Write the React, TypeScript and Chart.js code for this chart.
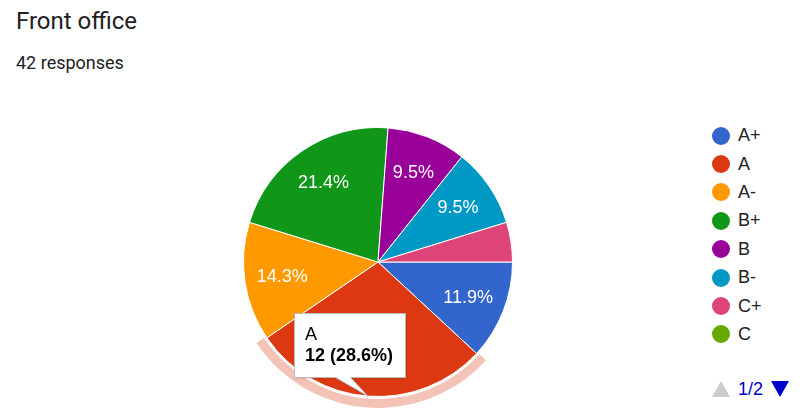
import React, { useEffect, useRef } from "react";
import { Chart, registerables } from "chart.js";
Chart.register(...registerables);

const title = "Front office";
const subtitle = "42 responses";
const labels = ["A+", "A", "A-", "B+", "B", "B-", "C+", "C"];
const counts = [5, 12, 6, 9, 4, 4, 2, 0];
const colors = ["#3366cc", "#dc3912", "#ff9900", "#109618", "#990099", "#0099c6", "#dd4477", "#66aa00"];
const highlighted = "A";
const pageLabel = "1/2";

const FONT = "Arial, 'Liberation Sans', sans-serif";

const overlayPlugin = {
  id: "overlay",
  afterDatasetsDraw(chart: any) {
    const ctx = chart.ctx as CanvasRenderingContext2D;
    const meta = chart.getDatasetMeta(0);
    const total = counts.reduce((a, b) => a + b, 0);
    ctx.save();
    // slice labels
    meta.data.forEach((arc: any, i: number) => {
      const pct = (counts[i] / total) * 100;
      if (pct < 7) return;
      const p = arc.getProps(["x", "y", "startAngle", "endAngle", "outerRadius"], true);
      const mid = (p.startAngle + p.endAngle) / 2;
      const r = p.outerRadius * 0.72;
      ctx.fillStyle = "#ffffff";
      ctx.font = `18px ${FONT}`;
      ctx.textAlign = "center";
      ctx.textBaseline = "middle";
      ctx.fillText(pct.toFixed(1) + "%", p.x + r * Math.cos(mid), p.y + r * Math.sin(mid) + 1);
    });

    const hi = labels.indexOf(highlighted);
    const arc = meta.data[hi];
    if (arc) {
      const p = arc.getProps(["x", "y", "startAngle", "endAngle", "outerRadius"], true);
      // highlight ring
      ctx.beginPath();
      ctx.arc(p.x, p.y, p.outerRadius + 7, p.startAngle - 0.01, p.endAngle + 0.01);
      ctx.lineWidth = 9;
      ctx.strokeStyle = "rgba(220,57,18,0.3)";
      ctx.stroke();

      // tooltip
      const mid = (p.startAngle + p.endAngle) / 2;
      const tx = p.x + p.outerRadius * Math.cos(mid);
      const ty = p.y + p.outerRadius * Math.sin(mid);
      const left = Math.round(tx - 74) + 0.5;
      const bottom = Math.round(ty - 19) + 0.5;
      const w = 111;
      const h = 64;
      const top = bottom - h;
      ctx.beginPath();
      ctx.moveTo(left, top);
      ctx.lineTo(left + w, top);
      ctx.lineTo(left + w, bottom);
      ctx.lineTo(left + 56, bottom);
      ctx.lineTo(tx, ty);
      ctx.lineTo(left + 41, bottom);
      ctx.lineTo(left, bottom);
      ctx.closePath();
      ctx.shadowColor = "rgba(0,0,0,0.15)";
      ctx.shadowBlur = 2;
      ctx.shadowOffsetX = 1;
      ctx.shadowOffsetY = 1;
      ctx.fillStyle = "#ffffff";
      ctx.fill();
      ctx.shadowColor = "transparent";
      ctx.lineWidth = 1;
      ctx.strokeStyle = "#bbbbbb";
      ctx.stroke();

      const value = counts[hi];
      const pct = ((value / total) * 100).toFixed(1);
      ctx.fillStyle = "#000000";
      ctx.textAlign = "left";
      ctx.textBaseline = "alphabetic";
      ctx.font = `18px ${FONT}`;
      ctx.fillText(labels[hi], left + 10.5, top + 26);
      ctx.font = `bold 18px ${FONT}`;
      ctx.fillText(`${value} (${pct}%)`, left + 10.5, top + 47);
    }
    ctx.restore();
  },
};

function PieChart() {
  const ref = useRef<HTMLCanvasElement | null>(null);
  useEffect(() => {
    if (!ref.current) return;
    const chart = new Chart(ref.current, {
      type: "pie",
      data: {
        labels,
        datasets: [
          {
            data: counts,
            backgroundColor: colors,
            borderColor: "#ffffff",
            borderWidth: 1,
            hoverOffset: 0,
            offset: 0,
          },
        ],
      },
      options: {
        animation: false,
        responsive: false,
        rotation: 90,
        layout: { padding: 15 },
        events: [],
        plugins: {
          legend: { display: false },
          tooltip: { enabled: false },
        },
      },
      plugins: [overlayPlugin],
    });
    return () => chart.destroy();
  }, []);
  return <canvas ref={ref} width={300} height={300} style={{ width: 300, height: 300, display: "block" }} />;
}

export default function App() {
  return (
    <div
      style={{
        position: "fixed",
        left: 0,
        top: 0,
        width: 800,
        height: 413,
        background: "#ffffff",
        overflow: "hidden",
      }}
    >
      <div
        style={{
          position: "absolute",
          left: 16,
          top: 9,
          fontFamily: "Roboto, sans-serif",
          fontSize: 24,
          lineHeight: "24px",
          color: "#202124",
          whiteSpace: "nowrap",
        }}
      >
        {title}
      </div>
      <div
        style={{
          position: "absolute",
          left: 16,
          top: 54,
          fontFamily: "Roboto, sans-serif",
          fontSize: 18,
          lineHeight: "18px",
          color: "#202124",
          whiteSpace: "nowrap",
        }}
      >
        {subtitle}
      </div>
      <div style={{ position: "absolute", left: 228, top: 112 }}>
        <PieChart />
      </div>
      <div style={{ position: "absolute", left: 712, top: 121.5 }}>
        {labels.map((l, i) => (
          <div key={l} style={{ display: "flex", alignItems: "center", height: 28.4 }}>
            <div style={{ width: 18, height: 18, borderRadius: "50%", background: colors[i], flex: "none" }} />
            <div
              style={{
                marginLeft: 8,
                fontFamily: FONT,
                fontSize: 18,
                color: "#222222",
                whiteSpace: "nowrap",
              }}
            >
              {l}
            </div>
          </div>
        ))}
      </div>
      <div style={{ position: "absolute", left: 712, top: 379, display: "flex", alignItems: "center", height: 20 }}>
        <svg width={18} height={16} style={{ display: "block" }}>
          <polygon points="9,0 18,16 0,16" fill="#cccccc" />
        </svg>
        <div style={{ marginLeft: 8, fontFamily: FONT, fontSize: 18, color: "#0000cc", width: 24 }}>{pageLabel}</div>
        <svg width={18} height={16} style={{ display: "block", marginLeft: 9 }}>
          <polygon points="0,0 18,0 9,16" fill="#0000cc" />
        </svg>
      </div>
    </div>
  );
}
